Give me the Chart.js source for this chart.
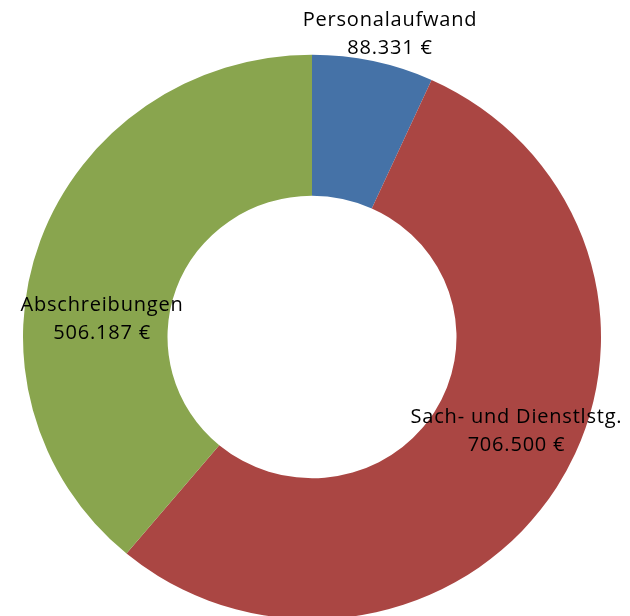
<!DOCTYPE html>
<html>
<head>
<meta charset="utf-8">
<script src="https://cdn.jsdelivr.net/npm/chart.js@4/dist/chart.umd.min.js"></script>
<style>
  html, body { margin: 0; padding: 0; background: #fff; overflow: hidden; }
  #wrap { width: 630px; height: 616px; overflow: hidden; }
</style>
</head>
<body>
<div id="wrap"><canvas id="chart" width="630" height="688"></canvas></div>
<script>
// Kostenarten
const categories = ["Personalaufwand", "Sach- und Dienstlstg.", "Abschreibungen"];
const amounts = [88331, 706500, 506187];
const colors = ["#4572A7", "#AA4643", "#89A54E"];

const fmt = v => v.toLocaleString("de-DE") + " €";

// excel draws the ring a bit flatter than round, squash it vertically
const squash = {
    id: "squash",
    beforeDatasetsDraw(chart, args, opts) {
        const arc = chart.getDatasetMeta(0).data[0];
        const ctx = chart.ctx;
        ctx.save();
        ctx.translate(0, arc.y);
        ctx.scale(1, opts.k);
        ctx.translate(0, -arc.y);
    },
    afterDatasetsDraw(chart) {
        chart.ctx.restore();
    }
};

// two-line labels (name + amount)
const labelPlugin = {
    id: "ringLabels",
    afterDraw(chart, args, opts) {
        const ctx = chart.ctx;
        const meta = chart.getDatasetMeta(0);
        const k = chart.options.plugins.squash.k;
        ctx.save();
        ctx.font = opts.font;
        ctx.fillStyle = "#000";
        ctx.textAlign = "center";
        ctx.textBaseline = "middle";
        if ("letterSpacing" in ctx) ctx.letterSpacing = opts.spacing;
        meta.data.forEach((arc, i) => {
            const p = arc.getProps(["x", "y", "startAngle", "endAngle", "outerRadius"], true);
            const mid = (p.startAngle + p.endAngle) / 2 + opts.angleShift[i] * Math.PI / 180;
            const r = p.outerRadius * opts.radius[i];
            const cx = p.x + Math.cos(mid) * r;
            const cy = p.y + Math.sin(mid) * r * k + opts.nudge;
            ctx.fillText(categories[i], cx, cy - opts.lineGap / 2);
            ctx.fillText(fmt(amounts[i]), cx, cy + opts.lineGap / 2);
        });
        ctx.restore();
    }
};

new Chart(document.getElementById("chart"), {
    type: "doughnut",
    data: {
        labels: categories,
        datasets: [{
            data: amounts,
            backgroundColor: colors,
            borderWidth: 0
        }]
    },
    options: {
        responsive: false,
        animation: false,
        cutout: "50%",
        layout: { padding: { left: 23, right: 29, top: 48, bottom: 62 } },
        plugins: {
            legend: { display: false },
            tooltip: { enabled: false },
            squash: { k: 0.977 },
            ringLabels: {
                font: "20px 'Open Sans'",
                spacing: "0.8px",
                lineGap: 28,
                nudge: 2,
                radius: [1.114, 0.78, 0.73],
                angleShift: [1.8, -7.3, -14.4]
            }
        }
    },
    plugins: [squash, labelPlugin]
});
</script>
</body>
</html>
